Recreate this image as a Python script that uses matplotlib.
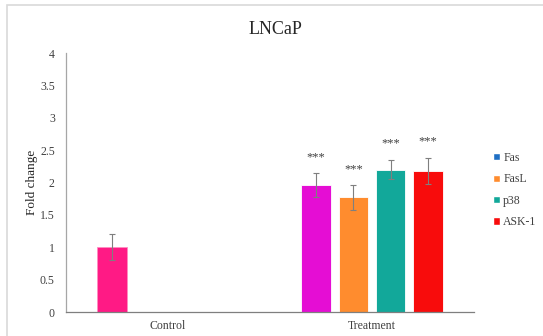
import matplotlib.pyplot as plt
from matplotlib.patches import Patch, Rectangle
import numpy as np

plt.rcParams['font.family'] = ['Liberation Serif', 'DejaVu Serif']

categories = ['Control', 'Treatment']
control_value = 1.0
control_err = 0.2
series = ['Fas', 'FasL', 'p38', 'ASK-1']
legend_colors = ['#1f6fc4', '#ff8c2e', '#12a89a', '#f80c0c']
treat_colors = ['#e50dd4', '#ff8c2e', '#12a89a', '#f80c0c']
treat_values = [1.96, 1.77, 2.20, 2.18]
treat_errs = [0.18, 0.19, 0.15, 0.20]
stars = ['***', '***', '***', '***']

fig = plt.figure(figsize=(5.43, 3.36), dpi=100)
ax = fig.add_axes([0.1215, 0.0714, 0.7515, 0.7706])

# outer chart border (Excel style)
fig.patches.append(Rectangle((7/543, -0.1), 1.1, 1.1 - 5/336, transform=fig.transFigure,
                             fill=False, edgecolor='#d9d9d9', linewidth=1.2))

pitch = 0.183
width = 0.145
offsets = (np.arange(4) - 1.5) * pitch

# control bar sits in the first slot of its group
ax.bar(0 + offsets[0], control_value, width, color='#ff1a85', edgecolor='#ff8cc2', linewidth=0.6)
ax.errorbar(0 + offsets[0], control_value, yerr=control_err, fmt='none', ecolor='#7f7f7f',
            elinewidth=0.8, capsize=2.5, capthick=0.8)

for i in range(4):
    x = 1 + offsets[i]
    ax.bar(x, treat_values[i], width, color=treat_colors[i], edgecolor='white', linewidth=0.6)
    ax.errorbar(x, treat_values[i], yerr=treat_errs[i], fmt='none', ecolor='#7f7f7f',
                elinewidth=0.8, capsize=2.5, capthick=0.8)
    ax.text(x, treat_values[i] + treat_errs[i] + 0.25, stars[i], ha='center', va='center',
            fontsize=9, color='#404040')

ax.set_xlim(-0.5, 1.5)
ax.set_ylim(0, 4)
ax.set_yticks(np.arange(0, 4.01, 0.5))
ax.set_yticklabels(['0', '0.5', '1', '1.5', '2', '2.5', '3', '3.5', '4'])
ax.set_xticks([0, 1])
ax.set_xticklabels(categories)
ax.tick_params(axis='both', length=0, labelsize=8.5, colors='#404040')
ax.tick_params(axis='y', pad=8)
ax.tick_params(axis='x', pad=6)
for s in ['top', 'right']:
    ax.spines[s].set_visible(False)
ax.spines['left'].set_color('#a6a6a6')
ax.spines['bottom'].set_color('#7f7f7f')
ax.spines['left'].set_linewidth(0.9)
ax.spines['bottom'].set_linewidth(0.9)

ax.set_ylabel('Fold change', fontsize=9.5, color='#262626')
ax.yaxis.set_label_coords(-0.069, 0.5)
fig.text(0.508, 0.912, 'LNCaP', ha='center', va='center', fontsize=13, color='#262626')

handles = [Patch(facecolor=c, edgecolor='white') for c in legend_colors]
ax.legend(handles, series, loc='center left', bbox_to_anchor=(1.047, 0.471), frameon=False,
          fontsize=8.5, handlelength=0.55, handleheight=0.55, handletextpad=0.3,
          labelspacing=0.8, borderpad=0, borderaxespad=0, labelcolor='#404040')

fig.savefig('out.png', dpi=100)
